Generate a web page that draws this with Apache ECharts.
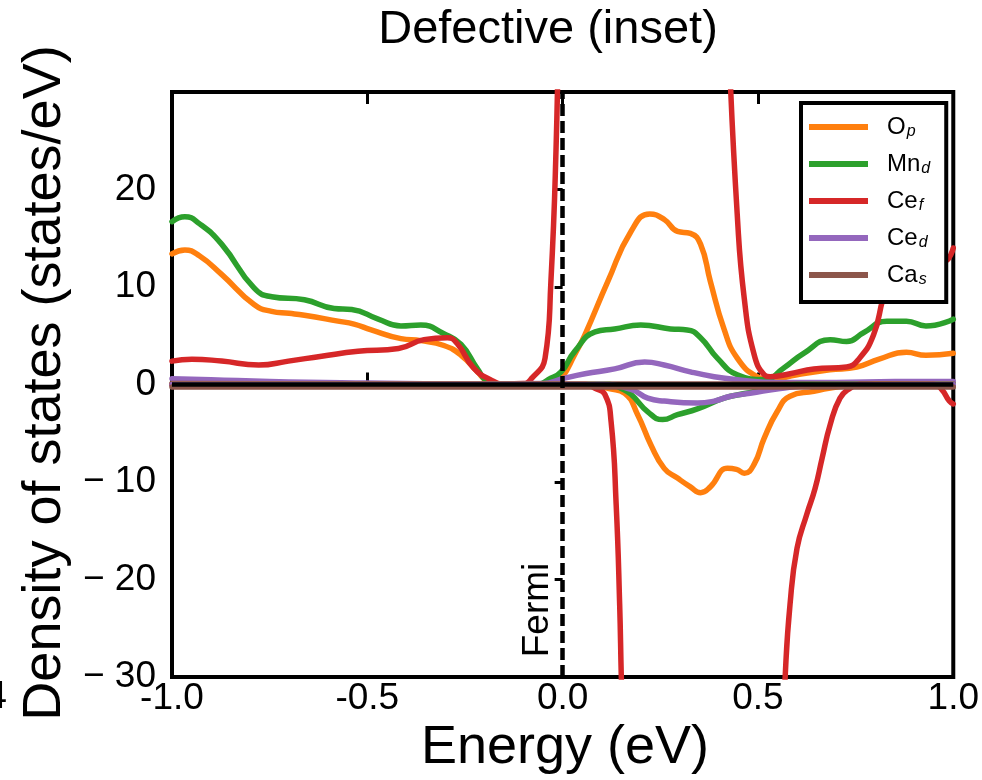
<!DOCTYPE html>
<html>
<head>
<meta charset="utf-8">
<script src="https://cdn.jsdelivr.net/npm/echarts@6/dist/echarts.min.js"></script>
<style>
  html, body { margin: 0; padding: 0; background: #fff; }
  #chart { width: 982px; height: 780px; }
</style>
</head>
<body>
<div id="chart"></div>
<script>
// Projected density of states around the Fermi level, spin up (>0) and spin down (<0)
const xTicks = [-1.0, -0.5, 0.0, 0.5, 1.0];
const yTicks = [-30, -20, -10, 0, 10, 20];

// [energy (eV), DOS (states/eV)]
const oP_up = [[-1.0,13.4],[-0.967,13.8],[-0.93,13.2],[-0.873,11.3],[-0.79,8.2],[-0.745,7.5],[-0.70,7.3],[-0.661,7.1],[-0.575,6.5],[-0.534,6.2],[-0.49,5.6],[-0.414,4.7],[-0.363,4.5],[-0.304,4.0],[-0.26,3.0],[-0.218,1.3],[-0.19,0.3],[-0.15,0.05],[-0.05,0.05],[-0.02,0.2],[0.0,0.8],[0.03,3.0],[0.057,5.1],[0.116,10.6],[0.175,15.7],[0.223,17.5],[0.261,16.9],[0.294,15.7],[0.327,15.5],[0.353,14.4],[0.378,10.6],[0.413,5.7],[0.447,2.7],[0.498,0.8],[0.53,0.5],[0.6,1.0],[0.684,1.5],[0.753,1.8],[0.81,2.6],[0.88,3.3],[0.93,3.0],[1.0,3.2]];
const mnD_up = [[-1.0,16.7],[-0.967,17.2],[-0.93,16.5],[-0.873,14.4],[-0.79,9.9],[-0.745,9.0],[-0.661,8.7],[-0.585,7.8],[-0.54,7.7],[-0.472,6.7],[-0.414,6.0],[-0.363,6.1],[-0.304,5.2],[-0.26,4.1],[-0.218,1.6],[-0.19,0.3],[-0.15,0.05],[-0.06,0.05],[-0.037,0.5],[-0.004,1.3],[0.031,3.4],[0.083,5.4],[0.133,5.7],[0.2,6.1],[0.276,5.7],[0.319,5.6],[0.353,4.8],[0.396,2.7],[0.447,1.0],[0.516,0.5],[0.566,1.7],[0.617,3.2],[0.685,4.6],[0.727,4.4],[0.77,5.3],[0.83,6.5],[0.88,6.5],[0.93,6.0],[1.0,6.7]];
const ceF_up = [[-1.0,2.4],[-0.949,2.6],[-0.873,2.4],[-0.778,2.0],[-0.702,2.4],[-0.617,2.9],[-0.524,3.4],[-0.42,3.7],[-0.355,4.6],[-0.295,4.8],[-0.27,4.2],[-0.228,1.7],[-0.185,0.5],[-0.15,0.05],[-0.1,0.1],[-0.08,0.6],[-0.045,2.7],[-0.03,10.6],[-0.017,24],[-0.005,45],[0.02,70],[0.2,80],[0.4,60],[0.425,35],[0.447,17.4],[0.465,8.8],[0.49,3.1],[0.516,1.0],[0.531,0.8],[0.582,1.1],[0.643,1.6],[0.727,1.8],[0.76,2.7],[0.796,5.1],[0.82,8.8],[0.86,14],[0.9,16],[0.94,13],[0.975,12.6],[1.0,14]];
const ceD_up = [[-1.0,0.6],[-0.9,0.5],[-0.75,0.3],[-0.5,0.15],[-0.2,0.05],[-0.05,0.1],[0.0,0.6],[0.057,1.1],[0.133,1.6],[0.21,2.3],[0.26,2.0],[0.327,1.3],[0.388,0.8],[0.447,0.5],[0.55,0.2],[0.7,0.2],[0.85,0.3],[1.0,0.3]];
const caS_up = [[-1.0,0.1],[-0.5,0.05],[0.0,0.05],[0.5,0.05],[1.0,0.05]];

const oP_dn = [[-1.0,0],[0.08,0],[0.116,-0.4],[0.159,-0.9],[0.192,-3.1],[0.226,-6.2],[0.26,-8.6],[0.294,-9.6],[0.327,-10.5],[0.353,-11.1],[0.378,-10.5],[0.422,-8.6],[0.445,-8.7],[0.465,-9.1],[0.49,-8.2],[0.516,-5.5],[0.549,-2.8],[0.582,-1.2],[0.643,-0.7],[0.71,-0.2],[0.8,0],[1.0,0]];
const mnD_dn = [[-1.0,0],[0.12,0],[0.15,-0.4],[0.175,-1.0],[0.218,-2.8],[0.256,-3.6],[0.294,-3.1],[0.345,-2.5],[0.413,-1.4],[0.47,-0.9],[0.516,-0.5],[0.6,0],[1.0,0]];
const ceF_dn = [[-1.0,0],[0.06,0],[0.083,-0.4],[0.108,-1.0],[0.124,-3.8],[0.137,-12.3],[0.146,-22.6],[0.15,-29.7],[0.16,-45],[0.2,-70],[0.5,-70],[0.56,-40],[0.57,-29.7],[0.582,-22.6],[0.6,-16.8],[0.625,-13.3],[0.646,-10.7],[0.664,-7.6],[0.685,-4.1],[0.71,-1.4],[0.735,-0.4],[0.76,0],[0.95,0],[0.97,-0.5],[0.99,-1.7],[1.0,-2.0]];
const ceD_dn = [[-1.0,0],[0.1,0],[0.175,-0.5],[0.218,-1.4],[0.26,-1.7],[0.345,-1.9],[0.388,-1.7],[0.43,-1.2],[0.48,-0.9],[0.557,-0.4],[0.65,-0.1],[1.0,0]];
const caS_dn = [[-1.0,-0.25],[-0.5,-0.25],[0.0,-0.25],[0.5,-0.25],[1.0,-0.25]];

const names = ['Op', 'Mnd', 'Cef', 'Ced', 'Cas'];
const labels = { Op: ['O', 'p'], Mnd: ['Mn', 'd'], Cef: ['Ce', 'f'], Ced: ['Ce', 'd'], Cas: ['Ca', 's'] };
const colors = ['#ff7f0e', '#2ca02c', '#d62728', '#9467bd', '#8c564b'];
const upData = [oP_up, mnD_up, ceF_up, ceD_up, caS_up];
const dnData = [oP_dn, mnD_dn, ceF_dn, ceD_dn, caS_dn];

const FONT = '"Liberation Sans", Arial, Helvetica, sans-serif';

const chart = echarts.init(document.getElementById('chart'), null, { renderer: 'canvas' });

function lineSeries(name, data, color) {
  return {
    name: name,
    type: 'line',
    data: data,
    color: color,
    showSymbol: false,
    smooth: 0.5,
    clip: true,
    lineStyle: { width: 5.5, color: color, cap: 'round', join: 'round' },
    emphasis: { disabled: true },
    animation: false
  };
}

const series = [];
names.forEach((n, i) => series.push(lineSeries(n, upData[i], colors[i])));
names.forEach((n, i) => series.push(lineSeries(n, dnData[i], colors[i])));

// zero line and Fermi level
series[series.length - 1].markLine = {
  silent: true,
  symbol: ['none', 'none'],
  animation: false,
  label: { show: false },
  data: [
    { yAxis: 0, lineStyle: { color: '#000', width: 4.5, type: 'solid' } },
    { xAxis: 0, lineStyle: { color: '#000', width: 4.5, type: [12, 5] } }
  ]
};

const titleText = { type: 'text', x: 548, y: 30,
  style: { text: 'Defective (inset)', fontSize: 47, fontFamily: FONT, fill: '#000', align: 'center', verticalAlign: 'middle' } };
const yName = { type: 'text', x: 45, y: 383, rotation: Math.PI / 2,
  style: { text: 'Density of states (states/eV)', fontSize: 54, fontFamily: FONT, fill: '#000', align: 'center', verticalAlign: 'middle' } };
const xName = { type: 'text', x: 565, y: 748,
  style: { text: 'Energy (eV)', fontSize: 54, fontFamily: FONT, fill: '#000', align: 'center', verticalAlign: 'middle' } };
const edgeDigit = { type: 'text', x: 7, y: 697,
  style: { text: '4', fontSize: 39, fontFamily: FONT, fill: '#000', align: 'right', verticalAlign: 'middle' } };

chart.setOption({
  backgroundColor: '#fff',
  animation: false,
  grid: {
    left: 172, right: 25, top: 92, bottom: 103,
    show: true, borderColor: '#000', borderWidth: 4, backgroundColor: 'transparent'
  },
  legend: {
    orient: 'vertical',
    left: 801, top: 103,
    padding: [11, 16, 14, 8],
    itemGap: 11,
    itemWidth: 59, itemHeight: 6,
    icon: 'rect',
    backgroundColor: '#fff',
    borderColor: '#000', borderWidth: 4, borderRadius: 0,
    data: names,
    selectedMode: false,
    formatter: n => '{m|' + labels[n][0] + '}{s|' + labels[n][1] + '}',
    textStyle: {
      fontFamily: FONT,
      rich: {
        m: { fontSize: 24, lineHeight: 26, color: '#000', fontFamily: FONT, padding: [0, 0, 0, 14] },
        s: { fontSize: 16, lineHeight: 16, color: '#000', fontFamily: FONT, fontStyle: 'italic', padding: [10, 0, 0, 1] }
      }
    }
  },
  xAxis: [{
    type: 'value', min: -1, max: 1, interval: 0.5,
    axisLine: { show: false },
    splitLine: { show: false },
    axisTick: { show: true, inside: true, length: 12, lineStyle: { color: '#000', width: 3 } },
    axisLabel: {
      show: true, margin: 3, color: '#000', fontSize: 37, fontFamily: FONT,
      formatter: v => xTicks.indexOf(v) >= 0 ? v.toFixed(1) : ''
    }
  }, {
    type: 'value', min: -1, max: 1, interval: 0.5, position: 'top',
    axisLine: { show: false },
    splitLine: { show: false },
    axisTick: { show: true, inside: true, length: 12, lineStyle: { color: '#000', width: 3 } },
    axisLabel: { show: false }
  }],
  yAxis: {
    type: 'value', min: -30, max: 30, interval: 10,
    axisLine: { show: false },
    splitLine: { show: false },
    axisTick: { show: true, inside: false, length: 8, lineStyle: { color: '#000', width: 3 } },
    axisLabel: {
      margin: 16, color: '#000', fontSize: 37, fontFamily: FONT,
      formatter: v => yTicks.indexOf(v) < 0 ? '' : (v < 0 ? '\u2212 ' + Math.abs(v) : String(v))
    }
  },
  series: series,
  graphic: [titleText, yName, xName, edgeDigit]
});

// Fermi label placed beside the dashed line at E = 0
const p = chart.convertToPixel({ xAxisIndex: 0, yAxisIndex: 0 }, [0, -30]);
chart.setOption({
  graphic: [titleText, yName, xName, edgeDigit,
    { type: 'text', x: p[0] - 25, y: p[1] - 67, rotation: Math.PI / 2,
      style: { text: 'Fermi', fontSize: 37, fontFamily: FONT, fill: '#000', align: 'center', verticalAlign: 'middle' } }
  ]
}, { replaceMerge: ['graphic'] });
</script>
</body>
</html>
